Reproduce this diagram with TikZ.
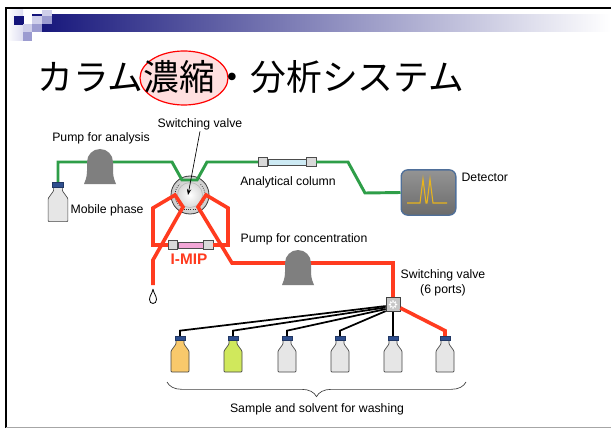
\documentclass[tikz,border=0pt]{standalone}
\usepackage{fontspec}
\setmainfont{Liberation Sans}
\newfontfamily\jpfont{Noto Sans CJK JP}
\usetikzlibrary{calc,positioning,arrows.meta,decorations.pathreplacing,shapes.geometric}

\definecolor{navybar}{HTML}{14147A}
\definecolor{lavlight}{HTML}{CFCFEA}
\definecolor{lavmid}{HTML}{9C9CD0}
\definecolor{tubegreen}{HTML}{2E9E48}
\definecolor{tubered}{HTML}{FF3B1F}
\definecolor{pumpgray}{HTML}{7F7F7F}
\definecolor{capblue}{HTML}{2F4F8F}
\definecolor{glassgray}{HTML}{E6E6E6}
\definecolor{sampleorange}{HTML}{F9C96B}
\definecolor{samplelime}{HTML}{D0E85C}
\definecolor{detframe}{HTML}{4F6F99}
\definecolor{peakyellow}{HTML}{E8B41C}
\definecolor{columnblue}{HTML}{CDEAF4}
\definecolor{mippink}{HTML}{F2A6D6}

\tikzset{
  pics/pump/.style={code={
    \fill[pumpgray] (-13,0) arc[start angle=180,end angle=360,radius=13]
      -- (13,9) .. controls (13,16) and (15,19) .. (16,22) -- (-16,22)
      .. controls (-15,19) and (-13,16) .. (-13,9) -- cycle;
  }},
  pics/bottle/.style={code={
    \filldraw[draw=gray!55!black, fill=#1, line width=0.5pt, rounded corners=0.6pt]
      (-4,4) -- (-4,8) -- (-9,15) -- (-9,36) -- (9,36) -- (9,15) -- (4,8) -- (4,4) -- cycle;
    \filldraw[fill=capblue, draw=capblue!70!black, line width=0.3pt] (-5,0) rectangle (5,4.5);
  }},
  pics/rotor/.style={code={
    \filldraw[draw=gray!50!black, line width=0.6pt, inner color=gray!10, outer color=gray!40] (0,0) circle[radius=19];
    \shade[inner color=white, outer color=gray!30] (0,0) circle[radius=12.5];
    \draw[gray!60, line width=0.4pt] (0,0) circle[radius=12.5];
    \draw[densely dotted, black!80, line width=0.6pt] (0,0) ++(135:15) arc[start angle=135,end angle=225,radius=15];
    \draw[densely dotted, black!80, line width=0.6pt] (0,0) ++(-45:15) arc[start angle=-45,end angle=45,radius=15];
    \draw[densely dotted, black!80, line width=0.6pt] (-6,14) -- (6,14);
  }},
}

\begin{document}
\begin{tikzpicture}[x=0.75pt,y=-0.75pt,
  lbl/.style={font=\fontsize{9.2}{11}\selectfont, inner sep=1pt},
  anal tube/.style={draw=tubegreen, line width=2.2pt},
  conc tube/.style={draw=tubered, line width=2.7pt},
  feed line/.style={draw=black, line width=1.3pt},
  colbody/.style={draw=gray!60!black, line width=0.4pt, minimum width=#1, minimum height=4.8pt, inner sep=0pt},
  colcap/.style={draw=gray!60!black, fill=gray!30, line width=0.4pt, minimum width=7pt, minimum height=6.8pt, inner sep=0pt},
  detector/.style={rounded corners=5pt, draw=detframe, line width=1pt, top color=black!42, bottom color=black!58,
    minimum width=41pt, minimum height=34pt, inner sep=0pt},
  portvalve/.style={draw=black!75, fill=gray!45, minimum size=10.5pt, inner sep=0pt, line width=0.5pt}]
\useasboundingbox[fill=white] (0,0) rectangle (611,428);

% slide frame and header bar
\draw[line width=1.9pt] (6,428) -- (6,8) -- (611,8);
\draw[gray!70, line width=0.8pt] (6,427.3) -- (611,427.3);
\shade[left color=white, right color=lavlight!70] (7,10) rectangle (23,41);
\shade[left color=navybar, right color=white] (32,15) rectangle (611,32);
\fill[navybar] (14,16) rectangle (24,25);
\fill[lavlight] (32,16) rectangle (42,24);
\fill[lavlight] (42,10) rectangle (52,16);
\fill[lavmid] (42,16) rectangle (52,24);
\fill[lavlight] (23,24) rectangle (32,32);
\fill[lavmid] (32,24) rectangle (42,32);
\fill[lavmid] (23,32) rectangle (32,41);

% title
\draw[red, line width=0.9pt, fill=pink!50] (184,78) ellipse [x radius=44, y radius=27];
\node[anchor=west, font=\jpfont\fontsize{26.8}{30}\selectfont, inner sep=0pt] (title) at (37,77) {カラム濃縮・分析システム};

% valve, columns, detector
\coordinate (sw) at (190,195);
\pic at (sw) {rotor};
\node[colbody=28.5pt, fill=columnblue] (acol) at (287,162) {};
\node[colcap, left=0pt of acol] (acolin) {};
\node[colcap, right=0pt of acol] (acolout) {};
\node[colbody=18.75pt, fill=mippink] (mip) at (190.5,245) {};
\node[colcap, left=0pt of mip] (mipin) {};
\node[colcap, right=0pt of mip] (mipout) {};
\node[detector] (det) at (428.5,192.5) {};
\draw[peakyellow, line width=0.8pt] (407,203) -- (420,203) -- (423,179) -- (426,203) -- (427,203)
  -- (430,179) -- (433,203) -- (447,203);
\node[portvalve] (sv6) at (393,304.5) {};
\draw[white, line width=0.5pt] (sv6) circle[radius=2.6];
\foreach \a in {0,45,...,315}
  \fill[white] (sv6) ++(\a:3.4) circle[radius=0.9];

% analysis line
\coordinate (mpcap) at (58,182);
\coordinate (pa) at (100,162);
\draw[anal tube] (mpcap) -- (58,162) -- (pa) -- (172,162) -- (182,180) -- (197,180) -- (207,162) -- (acolin.west);
\draw[anal tube] (acolout.east) -- (348,162) -- (365,193) -- (det.west);

% concentration line
\coordinate (pc) at (298,263);
\coordinate (drain) at (153,285);
\draw[conc tube] (mipin.west) -- (153,245) -- (153,208) -- (175,195) -- (183,207) -- (153,260) -- (drain);
\draw[conc tube] (mipout.east) -- (228,245) -- (228,208) -- (206,195) -- (198,207) -- (232,263) -- (pc)
  -- (393,263) -- (sv6.north);

% sample and washing bottles
\foreach \bx [count=\i] in {180,233,287,340,393,445}
  \coordinate (b\i) at (\bx,336);
\foreach \i/\a in {1/192,2/202,3/212,4/222}
  \draw[feed line] (sv6.\a) -- ([yshift=4pt]b\i) -- (b\i);
\draw[feed line] (sv6.south) -- (b5);
\draw[conc tube] (sv6.-25) -- ([yshift=4pt]b6) -- (b6);
\foreach \bc [count=\i] in {sampleorange,samplelime,glassgray,glassgray,glassgray,glassgray}
  \pic at (b\i) {bottle=\bc};
\pic[scale=1.1] at (mpcap) {bottle=glassgray};

% pumps
\pic at (pa) {pump};
\pic at (pc) {pump};

% drop at the waste outlet
\filldraw[fill=white, draw=black, line width=0.6pt] (153,289) .. controls (153.5,293) and (156.5,296) .. (156.5,299.5)
  .. controls (156.5,302) and (155,303.5) .. (153,303.5) .. controls (151,303.5) and (149.5,302) .. (149.5,299.5)
  .. controls (149.5,296) and (152.5,293) .. (153,289);

% labels
\node[lbl] (palbl) at (101,138) {Pump for analysis};
\node[lbl] (swl) at (200,124) {Switching valve};
\node[lbl, anchor=west] (mplbl) at (69,210) {Mobile phase};
\node[lbl] (acollbl) at (288,182) {Analytical column};
\node[lbl, anchor=west] (detlbl) at (460,177) {Detector};
\node[lbl] (pclbl) at (304,239) {Pump for concentration};
\node[lbl, text=tubered, font=\bfseries\fontsize{11.5}{13}\selectfont] (miplbl) at (189,259) {I-MIP};
\node[lbl, align=center] (sv6lbl) at (443,283) {Switching valve\\(6 ports)};
\node[lbl] (washlbl) at (317,409) {Sample and solvent for washing};
\draw[-{Stealth[length=4.5pt,width=3.2pt]}, line width=0.5pt] (swl.south) -- ([xshift=-1.5pt]sw);
\draw[gray!50!black, line width=0.5pt, decorate, decoration={brace, amplitude=11pt}] (466,382) -- (167,382);
\end{tikzpicture}
\end{document}
